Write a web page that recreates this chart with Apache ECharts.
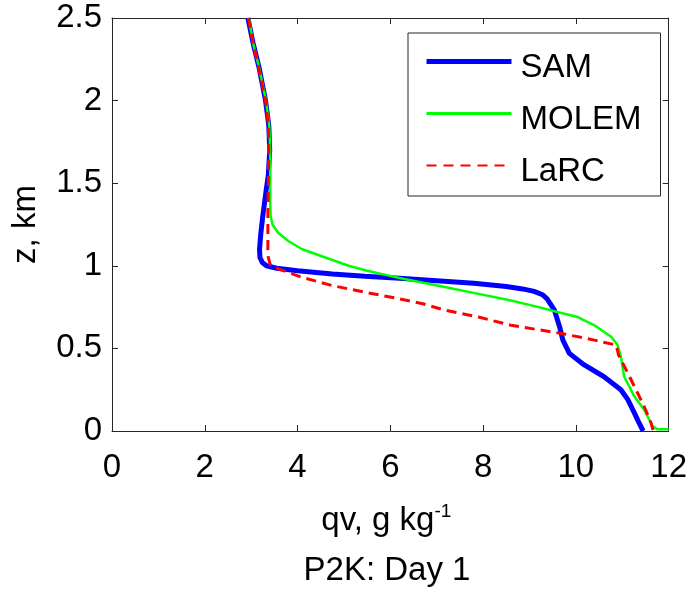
<!DOCTYPE html>
<html><head><meta charset="utf-8">
<script src="https://cdn.jsdelivr.net/npm/echarts@6/dist/echarts.min.js"></script>
<style>html,body{margin:0;padding:0;background:#fff}#c{width:690px;height:595px}</style>
</head><body><div id="c"></div>
<script>
// ---- data ----
const seriesNames = ['SAM', 'MOLEM', 'LaRC'];

const samZ  = [2.5, 2.35, 2.2, 2.0, 1.85, 1.7, 1.55, 1.45, 1.3, 1.2, 1.1, 1.05, 1.02, 1.0, 0.985, 0.97, 0.95, 0.937, 0.925, 0.91, 0.895, 0.875, 0.86, 0.845, 0.825, 0.80, 0.77, 0.73, 0.63, 0.55, 0.47, 0.40, 0.33, 0.25, 0.19, 0.11, 0.05, 0.0];
const samQv = [2.93, 3.04, 3.17, 3.31, 3.38, 3.40, 3.37, 3.32, 3.25, 3.21, 3.18, 3.19, 3.24, 3.33, 3.55, 4.0, 4.75, 5.45, 6.2, 7.0, 7.8, 8.5, 8.85, 9.1, 9.28, 9.38, 9.45, 9.54, 9.65, 9.72, 9.86, 10.18, 10.6, 10.97, 11.12, 11.26, 11.36, 11.45];

const molemZ  = [2.5, 2.35, 2.2, 2.0, 1.85, 1.7, 1.55, 1.4, 1.3, 1.25, 1.2, 1.15, 1.1, 1.05, 1.0, 0.97, 0.945, 0.92, 0.87, 0.83, 0.79, 0.75, 0.72, 0.69, 0.64, 0.57, 0.52, 0.45, 0.33, 0.21, 0.13, 0.03, 0.01, 0.01];
const molemQv = [2.95, 3.04, 3.17, 3.32, 3.39, 3.41, 3.41, 3.41, 3.42, 3.46, 3.58, 3.8, 4.1, 4.6, 5.1, 5.5, 5.9, 6.3, 7.2, 7.9, 8.6, 9.2, 9.6, 10.04, 10.40, 10.76, 10.90, 10.97, 11.04, 11.26, 11.47, 11.65, 11.76, 12.0];

const larcZ  = [2.5, 2.35, 2.2, 2.0, 1.85, 1.7, 1.5, 1.3, 1.1, 1.05, 1.0, 0.98, 0.95, 0.93, 0.88, 0.84, 0.80, 0.77, 0.73, 0.69, 0.64, 0.59, 0.55, 0.52, 0.46, 0.35, 0.23, 0.15, 0.05, 0.0];
const larcQv = [2.94, 3.04, 3.16, 3.31, 3.37, 3.38, 3.37, 3.36, 3.36, 3.37, 3.42, 3.6, 3.9, 4.1, 4.75, 5.45, 6.2, 6.7, 7.2, 7.9, 8.6, 9.7, 10.4, 10.87, 10.92, 11.12, 11.33, 11.47, 11.62, 11.67];

const xRange = [0, 12]; const xStep = 2;
const yRange = [0, 2.5]; const yStep = 0.5;
const xTitle = 'qv, g kg';
const xTitleSup = '-1';
const yTitle = 'z, km';
const plotTitle = 'P2K: Day 1';

// ---- chart ----
const FONT = '"Liberation Sans", Arial, sans-serif';
const FS = 33;
const AX = '#262626';
const pairs = (qv, z) => qv.map((v, i) => [v, z[i]]);

function xAx(pos, main) {
  return {
    type: 'value', min: xRange[0], max: xRange[1], interval: xStep, position: pos,
    axisLine: { show: true, onZero: false, lineStyle: { color: AX, width: 1 } },
    axisTick: { show: true, inside: true, length: 6, lineStyle: { color: AX, width: 1 } },
    axisLabel: { show: main, margin: 20, fontSize: FS, fontFamily: FONT, color: '#000' },
    splitLine: { show: false }
  };
}
function yAx(pos, main) {
  return {
    type: 'value', min: yRange[0], max: yRange[1], interval: yStep, position: pos,
    axisLine: { show: true, onZero: false, lineStyle: { color: AX, width: 1 } },
    axisTick: { show: true, inside: true, length: 6, lineStyle: { color: AX, width: 1 } },
    axisLabel: { show: main, margin: 10, fontSize: FS, fontFamily: FONT, color: '#000' },
    splitLine: { show: false }
  };
}

const xMain = Object.assign(xAx('bottom', true), {
  name: '{a|' + xTitle + '}{b|' + xTitleSup + '}',
  nameLocation: 'middle', nameGap: 71,
  nameTextStyle: {
    fontSize: FS, fontFamily: FONT, color: '#000', padding: [0, 8, 0, 0],
    rich: {
      a: { fontSize: FS, fontFamily: FONT, color: '#000', lineHeight: 37, verticalAlign: 'middle' },
      b: { fontSize: 19, fontFamily: FONT, color: '#000', lineHeight: 19, verticalAlign: 'top' }
    }
  }
});
const yMain = Object.assign(yAx('left', true), {
  name: yTitle, nameLocation: 'middle', nameGap: 70, nameRotate: 90,
  nameTextStyle: { fontSize: FS, fontFamily: FONT, color: '#000' }
});

const styles = [
  { color: '#0000ff', width: 5, type: 'solid' },
  { color: '#00ff00', width: 2.5, type: 'solid' },
  { color: '#ff0000', width: 3, type: [10, 6] }
];
const legendLines = [
  { width: 5, type: 'solid' },
  { width: 3, type: 'solid' },
  { width: 2, type: [10, 7] }
];
const datas = [pairs(samQv, samZ), pairs(molemQv, molemZ), pairs(larcQv, larcZ)];

const option = {
  animation: false,
  backgroundColor: '#fff',
  grid: { left: 112, right: 19, top: 18, bottom: 164, containLabel: false },
  xAxis: [xMain, xAx('top', false)],
  yAxis: [yMain, yAx('right', false)],
  legend: {
    orient: 'vertical', left: 408, top: 33,
    padding: [6, 19, 8, 16],
    itemWidth: 85, itemHeight: 20, itemGap: 7,
    backgroundColor: '#fff', borderColor: AX, borderWidth: 1,
    itemStyle: { opacity: 0 },
    formatter: name => '{t|' + name + '}',
    textStyle: {
      fontSize: FS, fontFamily: FONT, color: '#000',
      rich: { t: { fontSize: FS, fontFamily: FONT, color: '#000', lineHeight: 33, padding: [12, 0, 0, 4] } }
    },
    selectedMode: false,
    data: seriesNames.map((n, i) => ({
      name: n,
      lineStyle: { color: styles[i].color, width: legendLines[i].width, type: legendLines[i].type }
    }))
  },
  series: seriesNames.map((n, i) => ({
    name: n, type: 'line', xAxisIndex: 0, yAxisIndex: 0,
    data: datas[i], symbol: 'none', smooth: false,
    lineStyle: { color: styles[i].color, width: styles[i].width, type: styles[i].type },
    itemStyle: { color: styles[i].color },
    z: 2 + i
  })),
  graphic: [{
    type: 'text', x: 387, y: 571,
    style: { text: plotTitle, fontSize: FS, fontFamily: FONT, fill: '#000', textAlign: 'center', textVerticalAlign: 'middle' }
  }]
};
const chart = echarts.init(document.getElementById('c'));
chart.setOption(option);
</script></body></html>
